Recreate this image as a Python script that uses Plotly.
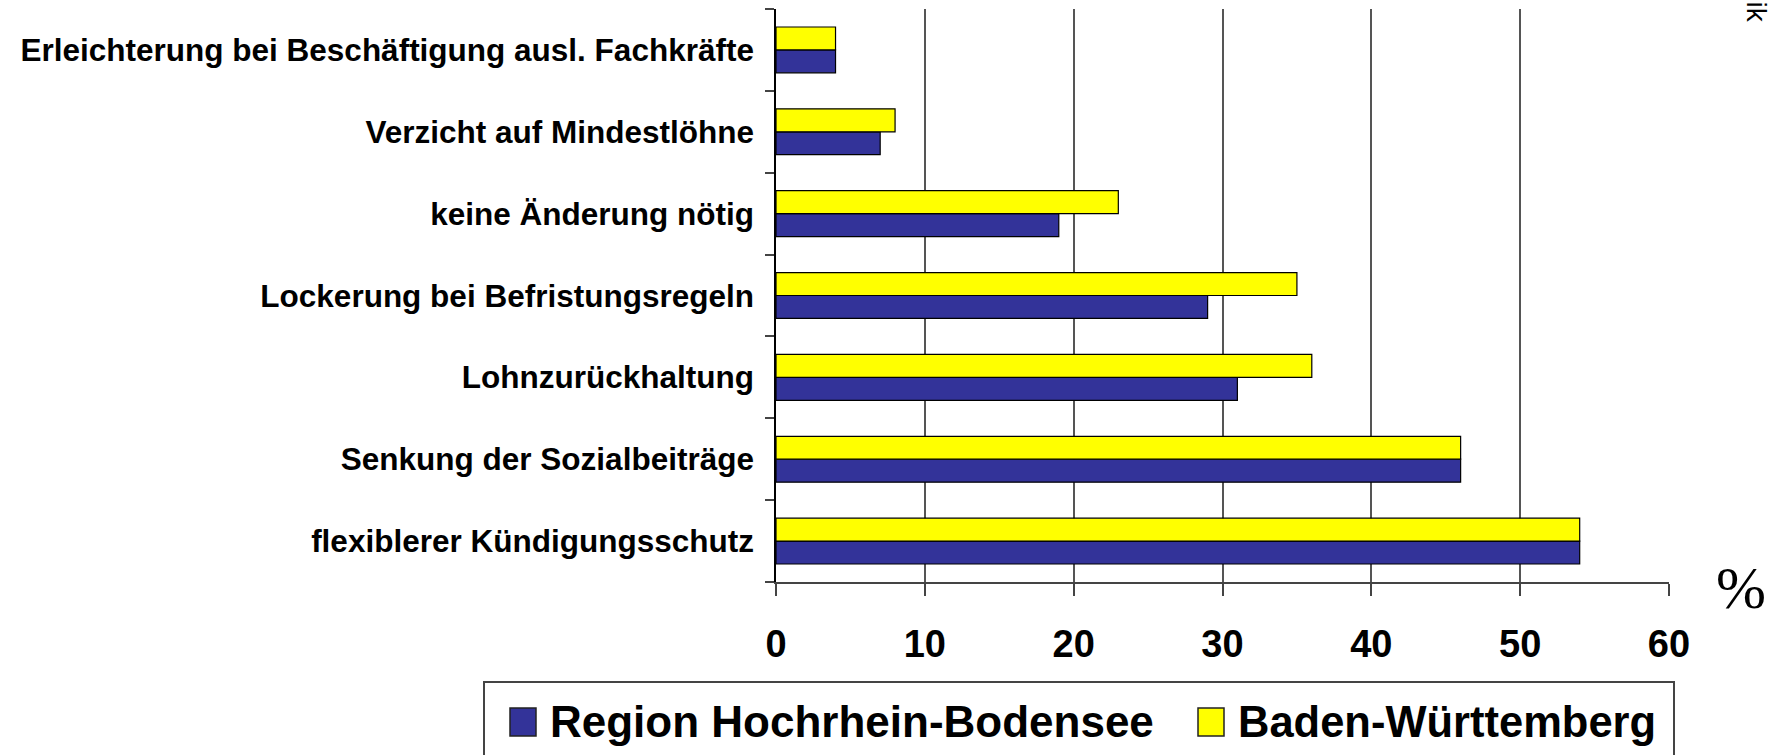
import plotly.graph_objects as go

# Categories listed bottom to top (Plotly draws categorical y from the bottom)
categories = [
    "flexiblerer Kündigungsschutz",
    "Senkung der Sozialbeiträge",
    "Lohnzurückhaltung",
    "Lockerung bei Befristungsregeln",
    "keine Änderung nötig",
    "Verzicht auf Mindestlöhne",
    "Erleichterung bei Beschäftigung ausl. Fachkräfte",
]
region_values = [54, 46, 31, 29, 19, 7, 4]
bw_values = [54, 46, 36, 35, 23, 8, 4]
x_ticks = [0, 10, 20, 30, 40, 50, 60]
series_names = ["Region Hochrhein-Bodensee", "Baden-Württemberg"]

BLUE = "#333399"
YELLOW = "#FFFF00"
FONT = "Liberation Sans"

W, H = 1789, 755
L, R, T, B = 776, 120, 9, 173
PW, PH = W - L - R, H - T - B


def px(x):
    return (x - L) / PW


def py(y):
    return (H - B - y) / PH


fig = go.Figure()
fig.add_trace(go.Bar(
    y=categories, x=region_values, orientation="h", name=series_names[0],
    marker=dict(color=BLUE, line=dict(color="black", width=1.2)),
    showlegend=False,
))
fig.add_trace(go.Bar(
    y=categories, x=bw_values, orientation="h", name=series_names[1],
    marker=dict(color=YELLOW, line=dict(color="black", width=1.2)),
    showlegend=False,
))

fig.update_layout(
    width=W, height=H,
    margin=dict(l=L, r=R, t=T, b=B, pad=0),
    paper_bgcolor="white", plot_bgcolor="white",
    barmode="group", bargap=0.44, bargroupgap=0,
    font=dict(family=FONT, color="black"),
    xaxis=dict(
        range=[0, 60], tickvals=x_ticks, ticktext=[str(v) for v in x_ticks],
        showgrid=True, gridcolor="#555555", gridwidth=2,
        zeroline=False, showline=True, linecolor="#444444", linewidth=2,
        ticks="outside", ticklen=12, tickwidth=2, tickcolor="#444444",
        tickfont=dict(family=FONT, size=38, color="black", weight="bold"),
        ticklabelstandoff=15,
    ),
    yaxis=dict(
        categoryorder="array", categoryarray=categories,
        showgrid=False, zeroline=False,
        showline=True, linecolor="black", linewidth=1.5,
        ticks="outside", tickson="boundaries", ticklen=9, tickwidth=1.5,
        tickcolor="#444444",
        tickfont=dict(family=FONT, size=31.5, color="black", weight="bold"),
        ticklabelstandoff=14,
    ),
)

# Legend box with swatches, drawn as shapes in paper coordinates
shapes = [
    dict(type="rect", xref="paper", yref="paper",
         x0=px(484), x1=px(1674), y0=py(770), y1=py(682),
         line=dict(color="#444444", width=2), fillcolor="rgba(0,0,0,0)"),
    dict(type="rect", xref="paper", yref="paper",
         x0=px(510), x1=px(536), y0=py(736), y1=py(708),
         line=dict(color="#222222", width=1.5), fillcolor=BLUE),
    dict(type="rect", xref="paper", yref="paper",
         x0=px(1198), x1=px(1224), y0=py(736), y1=py(708),
         line=dict(color="#222222", width=1.5), fillcolor=YELLOW),
]
fig.update_layout(shapes=shapes)

annotations = [
    dict(text=series_names[0], xref="paper", yref="paper",
         x=px(548), y=py(722), xanchor="left", yanchor="middle",
         showarrow=False, font=dict(family=FONT, size=44, color="black", weight="bold")),
    dict(text=series_names[1], xref="paper", yref="paper",
         x=px(1236), y=py(722), xanchor="left", yanchor="middle",
         showarrow=False, font=dict(family=FONT, size=43.5, color="black", weight="bold")),
    dict(text="%", xref="paper", yref="paper",
         x=px(1741), y=py(588), xanchor="center", yanchor="middle",
         showarrow=False, font=dict(family="Liberation Serif", size=60, color="black")),
    dict(text="ik", xref="paper", yref="paper",
         x=px(1756), y=py(24), xanchor="center", yanchor="bottom",
         textangle=90, showarrow=False,
         font=dict(family=FONT, size=28, color="black")),
]
fig.update_layout(annotations=annotations)

fig.write_html("out.html")
